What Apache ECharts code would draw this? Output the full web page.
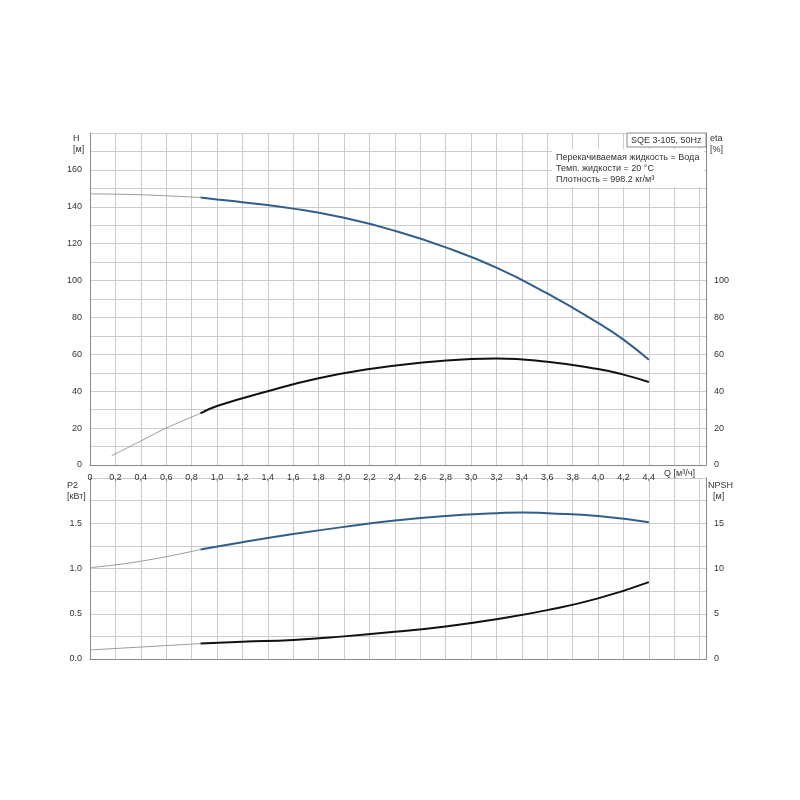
<!DOCTYPE html><html><head><meta charset="utf-8"><script src="https://cdn.jsdelivr.net/npm/echarts@6/dist/echarts.min.js"></script></head><body style="margin:0;background:#fff"><div id="c" style="width:800px;height:800px"></div><script>
const qH=[0,0.4,0.87,1.0,1.2,1.6,2.0,2.4,2.8,3.2,3.6,4.0,4.2,4.4];
const H=[147,146.5,145,144,142.5,139,134,127,118,107,93,77,68,57];
const qEta=[0.17,0.4,0.6,0.87,1.0,1.4,1.8,2.2,2.6,3.0,3.2,3.6,4.0,4.2,4.4];
const eta=[5,13,20,28,32,40,47,52,55.5,57.5,57.8,56,52,49,45];
const qP=[0,0.4,0.87,1.2,1.6,2.0,2.4,2.8,3.2,3.4,3.6,4.0,4.4];
const P2=[1.01,1.08,1.21,1.29,1.38,1.46,1.53,1.58,1.61,1.62,1.61,1.58,1.51];
const qN=[0,0.87,1.2,1.6,2.0,2.4,2.8,3.2,3.6,4.0,4.4];
const NPSH=[1.0,1.7,1.9,2.1,2.5,3.0,3.6,4.4,5.4,6.7,8.5];
const split=0.87;
function seg(q,v,lo){return q.map((x,i)=>[x,v[i]]).filter(p=>lo?p[0]<=split:p[0]>=split);}
const lab={fontSize:9,color:'#333',fontFamily:'Arial'};
const gl={show:true,lineStyle:{color:'#ccc'}};
function xa(g,show){return {type:'value',gridIndex:g,min:0,max:4.85,interval:0.2,axisLine:{lineStyle:{color:'#888'}},axisTick:{show:false},splitLine:gl,
 axisLabel:{show:show,...lab,formatter:v=>v>4.45?'':(Math.abs(v)<1e-9?'0':v.toFixed(1).replace('.',','))}};}
function ya(g,max,iv,lmax,pos,sl,dec){return {type:'value',gridIndex:g,min:0,max:max,interval:iv,position:pos,axisLine:{show:true,lineStyle:{color:'#888'}},axisTick:{show:false},splitLine:sl?gl:{show:false},
 axisLabel:{...lab,formatter:v=>{const k=v/(iv*2);return (v>lmax+1e-9||Math.abs(k-Math.round(k))>1e-6)?'':(dec?v.toFixed(1):String(v));}}};}
function line(x,y,d,c,w){return {type:'line',xAxisIndex:x,yAxisIndex:y,data:d,smooth:true,symbol:'none',lineStyle:{color:c,width:w},silent:true};}
const T={fontSize:9,fill:'#333',lineHeight:11,fontFamily:'Arial'};
const opt={animation:false,
 grid:[{left:90,right:94,top:133,height:332},{left:90,right:94,top:478,height:181}],
 xAxis:[xa(0,true),xa(1,false)],
 yAxis:[ya(0,180,10,160,'left',true),ya(0,180,10,100,'right',false),ya(1,2,0.25,1.5,'left',true,true),ya(1,20,2.5,15,'right',false)],
 series:[line(0,0,seg(qH,H,true),'#999',1),line(0,0,seg(qH,H,false),'#2f5f8a',2),
  line(0,1,seg(qEta,eta,true),'#999',1),line(0,1,seg(qEta,eta,false),'#111',2),
  line(1,2,seg(qP,P2,true),'#999',1),line(1,2,seg(qP,P2,false),'#2f5f8a',2),
  line(1,3,seg(qN,NPSH,true),'#999',1),line(1,3,seg(qN,NPSH,false),'#111',2)],
 graphic:[
  {type:'text',z:100,left:73,top:133,style:{text:'H\n[м]',...T}},
  {type:'text',z:100,left:710,top:133,style:{text:'eta\n[%]',...T}},
  {type:'text',z:100,left:67,top:480,style:{text:'P2\n[кВт]',...T,align:'center'}},
  {type:'text',z:100,left:708,top:480,style:{text:'NPSH\n  [м]',...T}},
  {type:'text',z:100,left:664,top:468,style:{text:'Q [м³/ч]',...T}},
  {type:'rect',z:100,shape:{x:552,y:149,width:152,height:38},style:{fill:'#fff'}},
  {type:'rect',z:101,shape:{x:627,y:133,width:79,height:14},style:{fill:'#fff',stroke:'#888'}},
  {type:'text',z:102,left:631,top:135,style:{text:'SQE 3-105, 50Hz',...T}},
  {type:'text',z:102,left:556,top:152,style:{text:'Перекачиваемая жидкость = Вода\nТемп. жидкости = 20 °C\nПлотность = 998.2 кг/м³',...T}}
 ]};
echarts.init(document.getElementById('c')).setOption(opt);
</script></body></html>
